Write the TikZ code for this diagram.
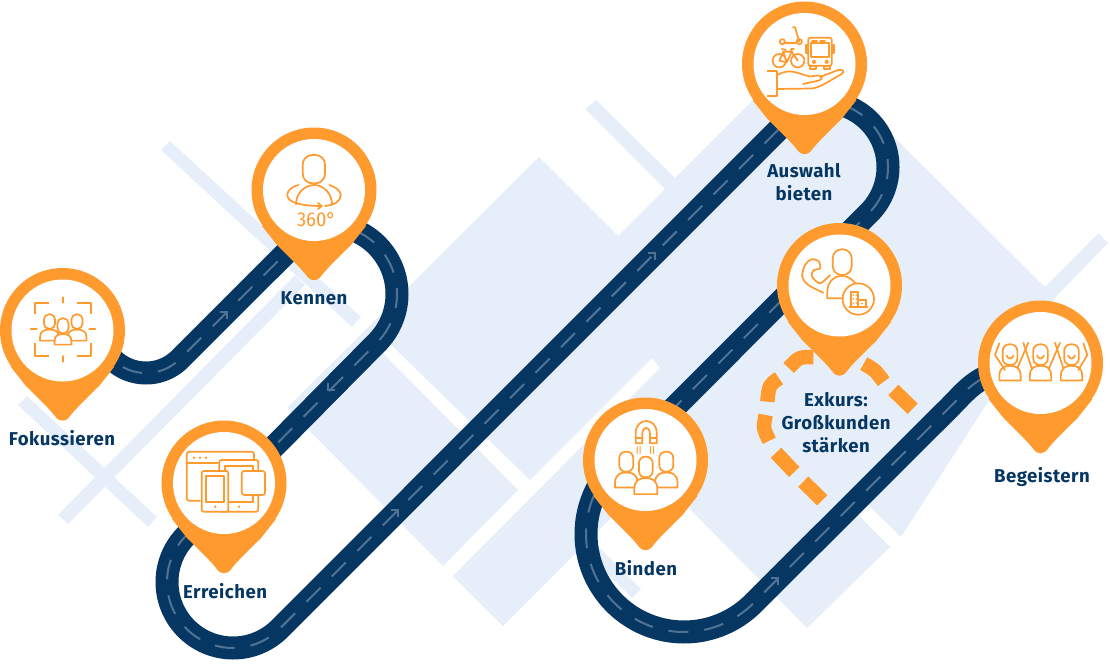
\documentclass[tikz,border=0pt]{standalone}
\usepackage{fontspec}
\setmainfont[LetterSpace=2.6]{Fira Sans}
\newfontfamily\numfont{Fira Sans Condensed}
\definecolor{lightblue}{HTML}{E6EFF9}
\definecolor{pinor}{HTML}{FF9A2E}
\definecolor{navy}{HTML}{063763}
\definecolor{dashc}{HTML}{4F7395}
\tikzset{
  bgshape/.style={fill=lightblue,draw=none},
  roadbase/.style={draw=navy,line width=23pt,line join=round},
  roadline/.style={draw=dashc,line width=2pt,line join=round,dash pattern=on 20pt off 16pt},
  chev/.style={draw=dashc,line width=2pt,line join=miter},
  lbl/.style={text=navy,align=center,font=\fontsize{18.6}{23}\selectfont\bfseries,inner sep=0pt},
  exk/.style={draw=pinor,line width=14.5pt},
  icon/.style={draw=pinor,line width=1.7pt,line join=round,line cap=round},
  iconw/.style={icon,fill=white},
  iconf/.style={fill=pinor,draw=none}
}
\newcommand\roadp[2]{\draw[roadbase] #2; \draw[roadline,dash phase=#1] #2;}
\newcommand\chevne[2]{\draw[chev] ({#1-7},{#2}) -- (#1,#2) -- ({#1},{#2+7});}
\newcommand\chevsw[2]{\draw[chev] ({#1+7},{#2}) -- (#1,#2) -- ({#1},{#2-7});}
\newcommand\pinshape[1]{%
 \begin{scope}[shift={(#1)}]
  \fill[pinor] (0,0) circle[radius=62.5pt];
  \fill[pinor] (-52,36) -- (-37,55) .. controls (-25,67) and (-13,78) .. (-6,87.5) .. controls (-3,91) and (3,91) .. (6,87.5) .. controls (13,78) and (25,67) .. (37,55) -- (52,36) -- cycle;
  \fill[white] (0,0) circle[radius=51pt];
 \end{scope}}
% cx, head top, head w, head h, body w, body h
\newcommand\person[6]{%
 \filldraw[iconw,rounded corners=#3*0.45pt] ({#1-#3/2},#2) rectangle ({#1+#3/2},{#2+#4});
 \filldraw[iconw] ({#1-#5/2},{#2+#4+0.8+#6}) -- ({#1-#5/2},{#2+#4+0.8+0.7*#6})
   .. controls ({#1-#5/2},{#2+#4+0.8+0.1*#6}) and ({#1-0.25*#5},{#2+#4+0.8}) .. (#1,{#2+#4+0.8})
   .. controls ({#1+0.25*#5},{#2+#4+0.8}) and ({#1+#5/2},{#2+#4+0.8+0.1*#6}) .. ({#1+#5/2},{#2+#4+0.8+0.7*#6})
   -- ({#1+#5/2},{#2+#4+0.8+#6}) -- cycle;}
\begin{document}
\begin{tikzpicture}[x=1pt,y=-1pt]
\useasboundingbox (0,0) rectangle (1110,664);
\coordinate (pF) at (62.5,330.5);
\coordinate (pK) at (314,190);
\coordinate (pE) at (224,483);
\coordinate (pA) at (804.5,64);
\coordinate (pX) at (839.5,285.5);
\coordinate (pB) at (645.5,460);
\coordinate (pG) at (1040.5,363);
% background
\fill[bgshape] (539,157) -- (618,236) -- (665,189) -- (585.5,109) -- (596,100) -- (675,178) -- (805,48) -- (895,138) -- (1045,287) -- (1098.6,233) -- (1108,243) -- (1055.5,297) -- (901,537) -- (860,497) -- (850,507) -- (890,547) -- (807,628) -- (688,507) -- (654.5,474.5) -- (590.5,538.5) -- (641,589) -- (632,598) -- (581.5,547.5) -- (503,626) -- (453,576) -- (660,368) -- (652,358) -- (530,480) -- (383,337) -- (375,345) -- (518,490) -- (443,566) -- (287,408) -- cycle;
\fill[bgshape] (170,141) -- (361,317) -- (352,327) -- (161,150) -- cycle;
\fill[bgshape] (27,396) -- (157,517) -- (148,527) -- (18,405) -- cycle;
\fill[bgshape] (58,515) -- (295,275) -- (305,285) -- (68,524) -- cycle;
% roads
\roadp{0}{(pF) -- plot[domain=150:45,samples=40] ({146+48*cos(\x)},{325+48*sin(\x)}) -- (290,249) -- (pK)}
\roadp{13}{(pK) -- plot[domain=-110:45,samples=60] ({328+69*cos(\x)},{294+69*sin(\x)}) -- (186.3,535.3) -- plot[domain=225:45,samples=60] ({233+66*cos(\x)},{582+66*sin(\x)}) -- (790,118) -- (pA)}
\roadp{21}{(pA) -- plot[domain=-110:45,samples=60] ({823+65*cos(\x)},{167+65*sin(\x)}) -- (640,442) -- (pB) -- plot[domain=225:45,samples=80] ({684+98*cos(\x)},{534+98*sin(\x)}) -- (950,407) .. controls (965,392) and (975,378) .. (1000,372) -- (pG)}
\chevne{227}{312}
\chevsw{328}{390}
\chevne{655}{253}
\chevne{398}{510}
\chevne{778}{578}
% Exkurs dashes
\draw[exk] (813.3,357) .. controls (799,357) .. (788.7,368);
\draw[exk] (779,378.3) .. controls (769,385) .. (767.3,401.7);
\draw[exk] (765.7,415) .. controls (763,428) .. (769.3,440.7);
\draw[exk] (776,452.7) -- (794.3,472);
\draw[exk] (803.3,481.7) -- (822.3,500.3);
\draw[exk] (863.7,363.7) .. controls (875,370) .. (883.7,381.7);
\draw[exk] (893.3,390) -- (912.7,408.7);
% pins
\pinshape{pF}\pinshape{pK}\pinshape{pE}\pinshape{pA}\pinshape{pX}\pinshape{pB}\pinshape{pG}
% icon Fokussieren
\draw[icon,line cap=butt] (35,314.3) -- (35,302.7) -- (49,302.7);
\draw[icon,line cap=butt] (77.3,302.7) -- (90.7,302.7) -- (90.7,314.3);
\draw[icon,line cap=butt] (35,343.3) -- (35,356) -- (49,356);
\draw[icon,line cap=butt] (77.3,356) -- (90.7,356) -- (90.7,343.3);
\draw[icon] (63,297.3) -- (63,302.7);
\draw[icon] (63,356) -- (63,361.7);
\draw[icon] (30.7,329.3) -- (36.7,329.3);
\draw[icon] (89.3,329.3) -- (95.3,329.3);
\person{49.5}{314.3}{11}{14.5}{19}{11}
\person{77}{314.3}{11}{14.5}{19}{11}
\person{63}{318.3}{11}{15}{17}{10.5}
% icon Kennen
\filldraw[iconw,rounded corners=9.5pt] (302.7,155) rectangle (325,183.3);
\draw[icon] (296,204.5) .. controls (296,194) and (304,185) .. (314,185) .. controls (324,185) and (332,194) .. (332,204.5);
\draw[iconw,fill=none] (298.3,185) .. controls (291,187) and (287.3,191) .. (287.3,195) .. controls (287.3,203) and (303,206) .. (321.7,206);
\draw[icon] (318,203) -- (321.7,206) -- (318,209);
\draw[iconw,fill=none] (329.3,185) .. controls (336,187) and (340.7,191) .. (340.7,195) .. controls (340.7,201) and (335,205) .. (325,206);
\node[inner sep=0pt,text=pinor,font=\numfont\fontsize{20}{20}\selectfont] (deg) at (316.5,220) {360°};
% icon Erreichen
\draw[icon,rounded corners=2.5pt] (200,500.7) -- (186.7,500.7) -- (186.7,451.7) -- (254,451.7) -- (254,459);
\draw[icon] (186.7,463.3) -- (218,463.3);
\fill[iconf] (194,457.7) circle[radius=1.4pt] (200,457.7) circle[radius=1.4pt] (206,457.7) circle[radius=1.4pt];
\draw[iconw,rounded corners=2pt] (219.3,460) rectangle (258.3,511.7);
\draw[icon] (225,465.7) rectangle (253.3,501.7);
\fill[iconf] (239,506.7) circle[radius=1.4pt];
\draw[iconw,rounded corners=2pt] (201.7,471) rectangle (228.3,511.7);
\draw[icon] (205.7,476) rectangle (224.3,501.7);
\fill[iconf] (215.3,506.7) circle[radius=1.4pt];
\draw[iconw,rounded corners=2.5pt] (241.7,471) rectangle (265,495);
% icon Auswahl: bus
\draw[icon,rounded corners=2pt] (808.3,37.7) rectangle (831.7,65.7);
\draw[icon] (811,43.3) rectangle (829.3,57.3);
\draw[icon] (812,40.7) -- (817,40.7) (820,40.7) -- (825,40.7);
\draw[icon] (805.7,45) rectangle (808.3,53.3) (831.7,45) rectangle (834.3,53.3);
\draw[icon] (814,61.8) circle[radius=1.4pt] (826.7,61.8) circle[radius=1.4pt];
\draw[icon] (810,65.7) rectangle (816,69.3) (824,65.7) rectangle (830,69.3);
% bike
\draw[icon] (779.3,60.7) circle[radius=6.7pt] (797.7,60.7) circle[radius=6.7pt];
\draw[icon] (779.3,60.7) -- (783.3,51.7) -- (791.7,51.7) -- (797.7,60.7) (783.3,51.7) -- (786.7,62.3) -- (791.7,51.7) (779.3,60.7) -- (786.7,62.3);
\draw[icon] (794,49) -- (791,49) -- (791.7,51.7) (781.7,49) -- (786,50);
% scooter
\draw[icon] (782.3,41.7) circle[radius=2.6pt] (799.3,41.7) circle[radius=2.6pt];
\draw[icon] (785,43) -- (796,43) -- (798.6,39) (799.3,41.7) -- (795,27.3) -- (793,27.3);
% hand
\draw[icon,line cap=butt] (767.3,70.7) -- (776.7,70.7) -- (776.7,96) -- (767.3,96);
\draw[icon] (776.7,75.5) .. controls (790,67) and (798,74) .. (810,76.5) -- (818,75.5) .. controls (823,75) and (823,79) .. (819,80.5) -- (803,84);
\draw[icon] (820,77) -- (838,70) .. controls (844,69) and (845,72) .. (841,74.5) .. controls (830,80) and (822,87) .. (812,88.5) -- (776.7,89);
% icon Exkurs
\filldraw[iconw,rounded corners=9pt] (832.7,249.3) rectangle (851.7,275);
\filldraw[iconw] (827.3,298.3) -- (827.3,292) .. controls (827.3,282) and (834,276) .. (841.7,276) .. controls (848,276) and (852,279) .. (856,284) -- (856,298.3) -- cycle;
\filldraw[iconw] (858.3,299) circle[radius=15.7pt];
\draw[icon] (851,306.7) -- (851,291.7) -- (858.3,291.7) -- (858.3,306.7) (858.3,300) -- (866,300) -- (866,306.7) (849.5,306.7) -- (867.5,306.7);
\fill[iconf] (853.2,295) circle[radius=.8pt] (856.2,295) circle[radius=.8pt] (853.2,299) circle[radius=.8pt] (856.2,299) circle[radius=.8pt] (853.2,303) circle[radius=.8pt] (856.2,303) circle[radius=.8pt] (862,303.5) circle[radius=1pt];
\draw[icon] plot[smooth,tension=.55] coordinates {(823.3,292.7) (808.3,285) (802.3,276.7) (805,265) (811.7,259.3) (819,261.7) (820,268.3) (814,270) (811.7,276) (820,283.3) (830,275)};
% icon Binden
\draw[iconw,fill=none,line cap=butt] (642.3,443.3) -- (642.3,434.5) .. controls (642.3,425.5) and (650,425.5) .. (650,434.5) -- (650,443.3) -- (656.7,443.3) -- (656.7,433) .. controls (656.7,417) and (635.7,417) .. (635.7,433) -- (635.7,443.3) -- cycle;
\draw[icon] (635.7,438.3) -- (642.3,438.3) (650,438.3) -- (656.7,438.3);
\foreach \q in {637,640,650.5,653.5}{\draw[icon,line width=1pt] (\q,446.7) .. controls ({\q+1.5},449) and ({\q-1.5},451) .. (\q,453.5);}
\person{626.3}{451.7}{14}{20}{22.5}{15}
\person{666.3}{451.7}{14}{20}{22.5}{15}
\person{645.8}{456.7}{13.7}{20.6}{23}{16}
% icon Begeistern
\foreach \c in {1010,1040.5,1071.5}{
 \person{\c}{344.3}{14.7}{20.7}{21.3}{14.7}
 \draw[icon] ({\c-3.5},355.5) .. controls ({\c-2},359.5) and ({\c+2},359.5) .. ({\c+3.5},355.5);}
\draw[icon] (999.3,343.3) -- (995,355) -- (1005,370);
\draw[icon] (1017.3,368.3) -- (1028.3,342.7);
\draw[icon] (1031.7,368.3) -- (1023.3,342.7);
\draw[icon] (1049,368.3) -- (1060,342.7);
\draw[icon] (1063.4,368.3) -- (1055,342.7);
\draw[icon] (1083.3,343.3) -- (1087.3,355) -- (1078.3,370);
% labels
\node[lbl] (lF) at (62,438) {Fokussieren};
\node[lbl] (lK) at (314,298) {Kennen};
\node[lbl] (lE) at (225,591.5) {Erreichen};
\node[lbl] (lA) at (804,182.5) {Auswahl\\bieten};
\node[lbl] (lX) at (836,422.5) {Exkurs:\\Großkunden\\stärken};
\node[lbl] (lB) at (646,568.5) {Binden};
\node[lbl] (lG) at (1042,477) {Begeistern};
\end{tikzpicture}
\end{document}
